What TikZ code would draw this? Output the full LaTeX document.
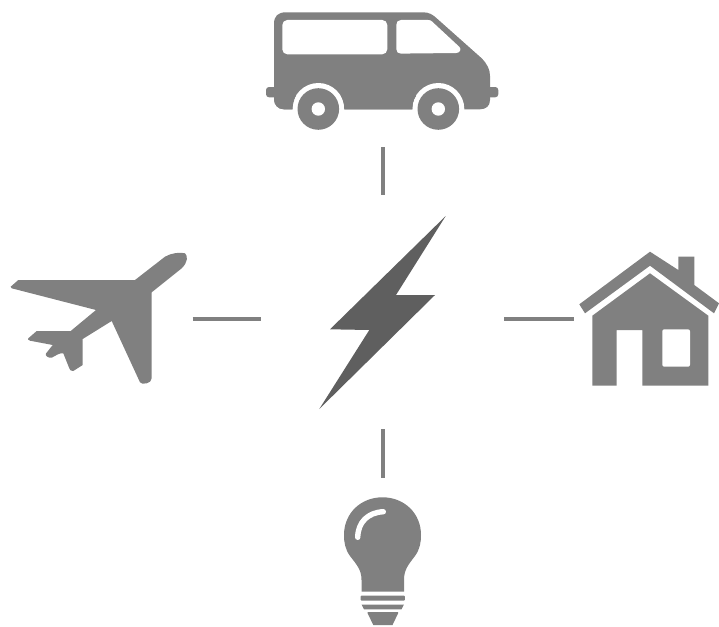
\documentclass[tikz,border=0pt]{standalone}
\usepackage{xcolor}
\usepackage{tikz}
\usetikzlibrary{calc}
\definecolor{icongrey}{HTML}{808080}
\definecolor{boltgrey}{HTML}{5F5F5F}

\begin{document}
\begin{tikzpicture}[
  x=1pt, y=-1pt,
  icon/.style={fill=icongrey, draw=none},
  gap/.style={fill=white, draw=none},
  boltshape/.style={fill=boltgrey, draw=none},
  link/.style={line width=4pt, color=icongrey}
]
\useasboundingbox (0,0) rectangle (719,626);
% Ends of the four links
\coordinate (vanEnd) at (382.5,147);
\coordinate (vanHub) at (382.5,195);
\coordinate (lampHub) at (382.5,429);
\coordinate (lampEnd) at (382.5,478);
\coordinate (planeEnd) at (192.5,318.5);
\coordinate (planeHub) at (261,318.5);
\coordinate (houseHub) at (504,318.5);
\coordinate (houseEnd) at (574,318.5);
\draw[link] (vanEnd) -- (vanHub);
\draw[link] (lampHub) -- (lampEnd);
\draw[link] (planeEnd) -- (planeHub);
\draw[link] (houseHub) -- (houseEnd);
% Bolt in the middle
\fill[boltshape] (445.7,216) -- (396,295) -- (435,295) -- (319.3,409)
  -- (369.3,330) -- (330,329.3) -- cycle;
% Van
\fill[icon] (274,24) .. controls (274,16) and (278,12.3) .. (286,12.3)
  -- (423.3,12.3) .. controls (429,12.3) and (433,14.8) .. (436.7,18.3)
  -- (481.7,58.3) .. controls (487,64) and (490,69) .. (490,76)
  -- (490,100) .. controls (490,106) and (486,109.3) .. (480,109.3)
  -- (284,109.3) .. controls (278,109.3) and (274,105) .. (274,99) -- cycle;
\fill[icon, rounded corners=3pt] (266,87) rectangle (280,97.3);
\fill[icon, rounded corners=3pt] (485,87) rectangle (498.3,97.3);
\fill[gap, rounded corners=5pt] (282.3,20) rectangle (387.3,54.3);
\fill[gap] (401,20) -- (428,20) .. controls (430,20) and (431,20.5) .. (432,21.5)
  -- (459.5,47) .. controls (461.5,49.5) and (460,53) .. (456,53)
  -- (401,53.6) .. controls (398,53.6) and (396.3,52) .. (396.3,49)
  -- (396.3,25) .. controls (396.3,22) and (398,20) .. (401,20) -- cycle;
\fill[gap] (318.3,109) circle (26);
\fill[gap] (438.3,109) circle (26);
\fill[gap] (280,109.6) rectangle (492,128);
\fill[icon] (274,95) -- (274,99) .. controls (274,105) and (278,109.3) .. (284,109.3)
  -- (292.5,109.3) .. controls (292.5,104) and (294,100) .. (296,95) -- cycle;
\fill[icon] (344.3,109.3) -- (412.3,109.3) .. controls (412.3,105) and (413,100) .. (416,96)
  -- (341,96) .. controls (343.5,100) and (344.3,105) .. (344.3,109.3) -- cycle;
\fill[icon] (318.3,109) circle (20.8);
\fill[icon] (438.3,109) circle (20.8);
\fill[gap] (318.3,109) circle (6.7);
\fill[gap] (438.3,109) circle (6.7);
% Plane
\fill[icon] (135,280) -- (165,256.7) .. controls (171,253) and (180,252) .. (185,253.3)
  .. controls (188,256) and (188,262) .. (181.7,268.3) -- (151.7,292.3)
  -- (151.7,378.3) .. controls (151.7,381) and (149,383) .. (146.7,383.3)
  .. controls (143.5,384) and (141,384) .. (140,382.3) -- (111.7,321) -- (82.7,339)
  -- (82.7,365) -- (73.3,371) .. controls (71,371.5) and (70,370) .. (69.3,368.3)
  -- (63.3,353.3) .. controls (60,352.5) and (56,355.5) .. (51.7,357.7)
  .. controls (48,358) and (45,356) .. (46,353.5) -- (52.7,345) -- (30,340.7)
  .. controls (28,340) and (27.5,339) .. (28.3,338.3) -- (36.7,331) -- (70.7,331)
  -- (96,310) -- (11.7,288.3) .. controls (10.5,288) and (10.5,287) .. (10.7,286.7)
  -- (18.3,280) -- cycle;
% House
\fill[icon] (650,251.7) -- (678.3,270) -- (678.3,256.7) -- (694.3,256.7) -- (694.3,285)
  -- (719,303.3) -- (714,313.3) -- (650,265.7) -- (585,313.3) -- (579.3,304.3) -- cycle;
\fill[icon] (650,273.3) -- (708.3,315.7) -- (708.3,385.7) -- (642.3,385.7) -- (642.3,330)
  -- (616.7,330) -- (616.7,385.7) -- (592.3,385.7) -- (592.3,315.7) -- cycle;
\fill[gap, rounded corners=2pt] (662.3,329.3) rectangle (690,366.7);
% Lamp
\fill[icon] (361.5,591.7) -- (361.5,580) .. controls (361.5,570) and (357,565) .. (350,556)
  .. controls (345,549) and (344,542) .. (344,535)
  .. controls (344,513) and (361,497.3) .. (382.5,497.3)
  .. controls (404,497.3) and (421,513) .. (421,535)
  .. controls (421,542) and (420,549) .. (415,556)
  .. controls (408,565) and (404,570) .. (404,580) -- (404,591.7) -- cycle;
\draw[white, line width=5.4pt, line cap=round] (357.7,537.3)
  .. controls (358,522) and (368,512.5) .. (383.3,511.7);
\fill[icon, rounded corners=1pt] (360.7,595.5) rectangle (404.8,600.7);
\fill[icon] (361.7,604.7) -- (403.8,604.7) -- (401.5,609.3) -- (364,609.3) -- cycle;
\fill[icon] (367.7,612) -- (398,612) -- (398,613.5) -- (392.5,625) -- (373.3,625) -- (367.7,613.5) -- cycle;
\end{tikzpicture}
\end{document}
